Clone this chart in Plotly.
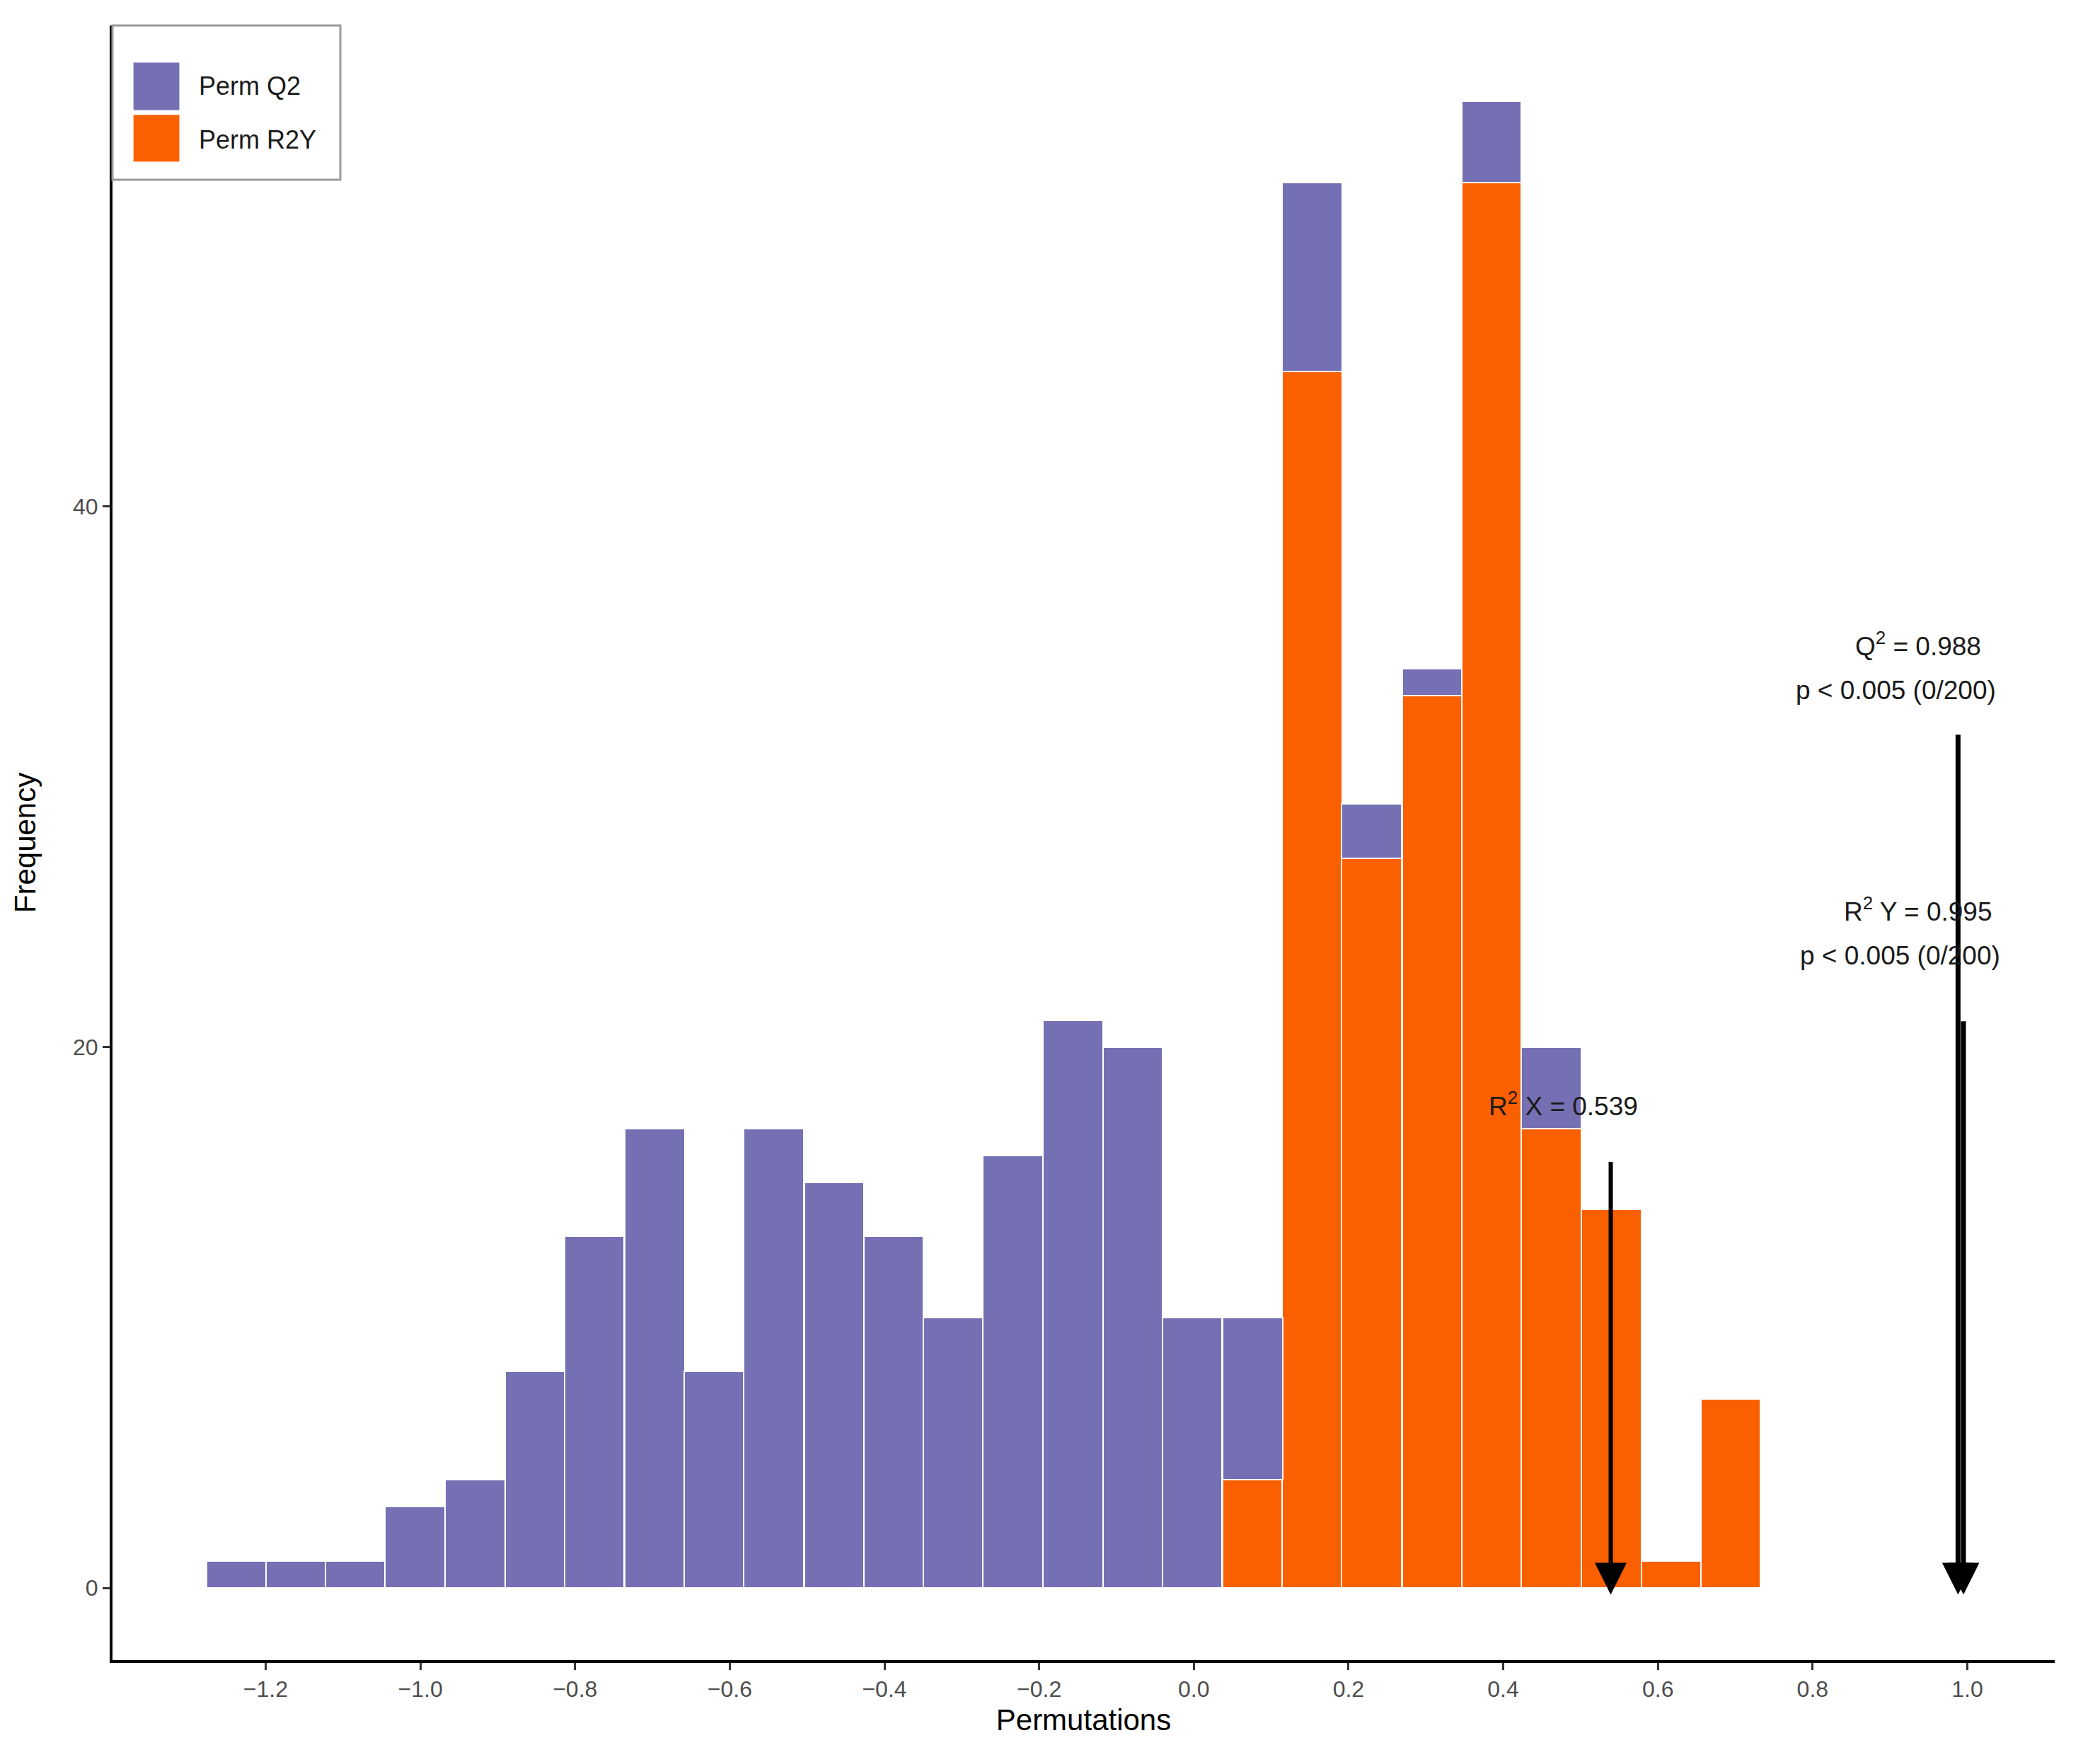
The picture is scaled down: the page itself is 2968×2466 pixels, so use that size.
import plotly.graph_objects as go

# histogram bins (centres), permutation counts per bin
bin_centres = [-1.238, -1.161, -1.084, -1.007, -0.929, -0.852, -0.775, -0.697,
               -0.620, -0.543, -0.465, -0.388, -0.311, -0.234, -0.156, -0.079,
               -0.002, 0.076, 0.153, 0.230, 0.308, 0.385, 0.462, 0.540,
               0.617, 0.694]
bin_width = 0.0773
perm_q2 = [1, 1, 1, 3, 4, 8, 13, 17, 8, 17, 15, 13, 10, 16, 21, 20,
           10, 6, 7, 2, 1, 3, 3, 0, 0, 0]
perm_r2y = [0, 0, 0, 0, 0, 0, 0, 0, 0, 0, 0, 0, 0, 0, 0, 0,
            0, 4, 45, 27, 33, 52, 17, 14, 1, 7]

# observed model statistics
r2x = 0.539
q2 = 0.988
r2y = 0.995
q2_arrow_top = 31.6
r2y_arrow_top = 21.0
r2x_arrow_top = 15.8

col_q2 = "#7570B3"
col_r2y = "#FA5F00"
font = "Liberation Sans"

fig = go.Figure()
fig.add_trace(go.Bar(x=bin_centres, y=perm_r2y, width=bin_width, name="Perm R2Y",
                     marker=dict(color=col_r2y, line=dict(color="white", width=2)),
                     showlegend=False))
fig.add_trace(go.Bar(x=bin_centres, y=perm_q2, width=bin_width, name="Perm Q2",
                     marker=dict(color=col_q2, line=dict(color="white", width=2)),
                     showlegend=False))

# arrows for the observed values
for xv, top, w in [(r2x, r2x_arrow_top, 6), (q2, q2_arrow_top, 7), (r2y, r2y_arrow_top, 7)]:
    fig.add_annotation(x=xv, y=-0.25, ax=xv, ay=top, xref="x", yref="y", axref="x", ayref="y",
                       text="", showarrow=True, arrowhead=2, arrowsize=9 / w,
                       arrowwidth=w, arrowcolor="black", standoff=0)

txt = dict(xref="x", yref="y", showarrow=False, font=dict(family=font, size=37, color="#1a1a1a"))
fig.add_annotation(x=0.936, y=34.9, text="Q<sup>2</sup> = 0.988", **txt)
fig.add_annotation(x=0.908, y=33.2, text="p < 0.005 (0/200)", **txt)
fig.add_annotation(x=0.936, y=25.1, text="R<sup>2</sup> Y = 0.995", **txt)
fig.add_annotation(x=0.913, y=23.4, text="p < 0.005 (0/200)", **txt)
fig.add_annotation(x=0.478, y=17.9, text="R<sup>2</sup> X = 0.539", **txt)

# legend box drawn by hand (plotly swatches are too small)
fig.add_shape(type="rect", xref="paper", yref="paper", x0=0, x1=0.1173, y0=0.9056, y1=1.0,
              line=dict(color="#9a9a9a", width=3), fillcolor="white")
fig.add_shape(type="rect", xref="paper", yref="paper", x0=0.0106, x1=0.0346, y0=0.948, y1=0.9775,
              line=dict(color="white", width=1), fillcolor=col_q2)
fig.add_shape(type="rect", xref="paper", yref="paper", x0=0.0106, x1=0.0346, y0=0.9165, y1=0.9455,
              line=dict(color="white", width=1), fillcolor=col_r2y)
leg = dict(xref="paper", yref="paper", showarrow=False, xanchor="left", yanchor="middle",
           font=dict(family=font, size=36, color="#1a1a1a"))
fig.add_annotation(x=0.0437, y=0.9628, text="Perm Q2", **leg)
fig.add_annotation(x=0.0437, y=0.9303, text="Perm R2Y", **leg)

fig.update_layout(
    width=2968, height=2466,
    margin=dict(l=151, r=72, t=28, b=128),
    barmode="stack", bargap=0,
    plot_bgcolor="white", paper_bgcolor="white",
    font=dict(family=font),
)
fig.update_xaxes(range=[-1.398, 1.113], tick0=0, dtick=0.2, tickformat=".1f",
                 showgrid=False, zeroline=False, showline=True, linecolor="black", linewidth=4,
                 ticks="outside", ticklen=10, tickwidth=3, tickcolor="#333333",
                 tickfont=dict(size=32, color="#4d4d4d"),
                 title=dict(text="Permutations", font=dict(size=42, color="black"), standoff=12))
fig.update_yaxes(range=[-2.67, 57.8], tickvals=[0, 20, 40],
                 showgrid=False, zeroline=False, showline=True, linecolor="black", linewidth=4,
                 ticks="outside", ticklen=10, tickwidth=3, tickcolor="#333333",
                 tickfont=dict(size=32, color="#4d4d4d"),
                 title=dict(text="Frequency", font=dict(size=42, color="black"), standoff=40))

fig.write_html("out.html")
